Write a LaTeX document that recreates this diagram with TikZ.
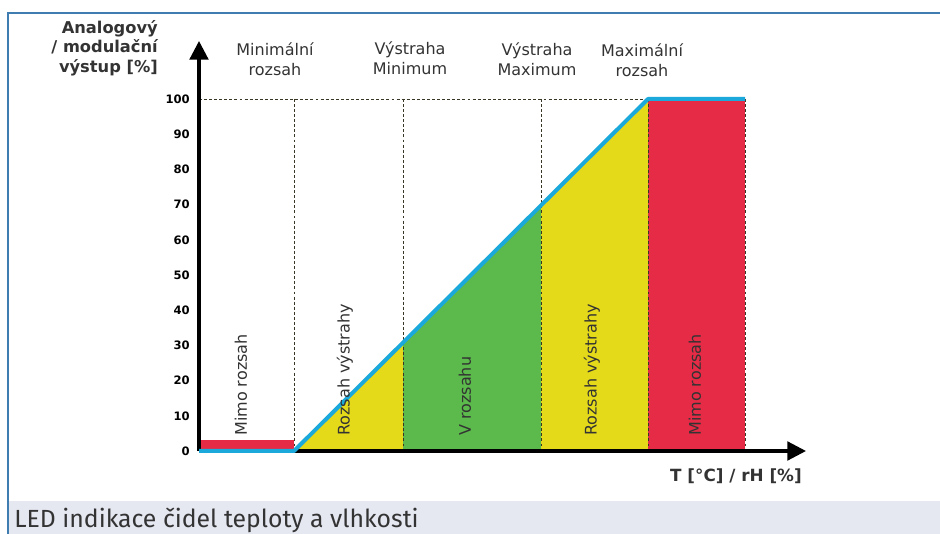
\documentclass[tikz,border=0pt]{standalone}
\usepackage{fontspec}
\setmainfont{DejaVu Sans}
\newfontfamily\capfont{Fira Sans}
\usetikzlibrary{arrows.meta}
\definecolor{cred}{HTML}{E52B45}
\definecolor{cyel}{HTML}{E5DA1A}
\definecolor{cgrn}{HTML}{5BBA4B}
\definecolor{cblu}{HTML}{1BA9DB}
\definecolor{cframe}{HTML}{3F7DB1}
\definecolor{ccap}{HTML}{E5E7F1}
\definecolor{ctxt}{HTML}{333333}
\definecolor{cdash}{HTML}{3A3626}
\tikzset{
  axis/.style={line width=2.4pt, -{Triangle[length=14pt,width=14pt]}},
  guide/.style={cdash, line width=0.7pt, dash pattern=on 2.2pt off 1.6pt},
  curve/.style={cblu, line width=3pt, line join=round},
  toplab/.style={align=center, font=\fontsize{12}{15}\selectfont, text=ctxt},
  tick/.style={anchor=east, font=\fontsize{8.7}{10}\selectfont\bfseries, text=black, inner sep=0pt},
  zonelab/.style={rotate=90, anchor=west, inner sep=0pt, font=\fontsize{12}{14}\selectfont, text=ctxt},
}
\begin{document}
\begin{tikzpicture}[x=0.75pt, y=-0.75pt]
\useasboundingbox (0,0) rectangle (940,534);
% frame and caption band
\fill[ccap] (9,501) rectangle (940,534);
\draw[cframe, line width=1.6pt] (8,534) -- (8,13) -- (940,13);
\node[anchor=base west, inner sep=0pt, font=\capfont\fontsize{18.6}{22}\selectfont, text=ctxt] (cap) at (14,528) {LED indikace čidel teploty a vlhkosti};
% coordinates
\coordinate (O) at (199,451);
\coordinate (Ytip) at (199,41);
\coordinate (Xtip) at (806,451);
\coordinate (P0) at (294,451);
\coordinate (P1) at (403,342.6);
\coordinate (P2) at (541,205.4);
\coordinate (P3) at (648,99);
\coordinate (P4) at (745,99);
% fills
\fill[cred] (199,440) rectangle (294,451);
\fill[cyel] (P0) -- (P1) -- (403,451) -- cycle;
\fill[cgrn] (403,451) -- (P1) -- (P2) -- (541,451) -- cycle;
\fill[cyel] (541,451) -- (P2) -- (P3) -- (648,451) -- cycle;
\fill[cred] (P3) rectangle (745,451);
% guides
\draw[guide] (199,99) -- (P3);
\foreach \x in {294,403,541,648,745} \draw[guide] (\x,99) -- (\x,451);
% axes
\draw[axis] (O) -- (Ytip);
\draw[axis] (O) -- (Xtip);
% curve
\draw[curve] (O) -- (P0) -- (P3) -- (P4);
% tick labels
\foreach \v [count=\i from 0] in {0,10,20,30,40,50,60,70,80,90,100}
  \node[tick] (t\i) at (190,{451-3.52*\v}) {\v};
% axis titles
\node[anchor=east, align=right, inner sep=0pt, font=\fontsize{12.2}{14.6}\selectfont\bfseries, text=ctxt] (ytitle) at (158,48) {Analogový\\/ modulační\\výstup [\%]};
\node[anchor=east, inner sep=0pt, font=\fontsize{12.6}{15}\selectfont\bfseries, text=ctxt] (xtitle) at (802,476) {T [°C] / rH [\%]};
% top labels
\node[toplab] (l1) at (275,59) {Minimální\\rozsah};
\node[toplab] (l2) at (410,58) {Výstraha\\Minimum};
\node[toplab] (l3) at (537,59) {Výstraha\\Maximum};
\node[toplab] (l4) at (642,60) {Maximální\\rozsah};
% zone labels
\node[zonelab] (z1) at (241,436) {Mimo rozsah};
\node[zonelab] (z2) at (345,436) {Rozsah výstrahy};
\node[zonelab] (z3) at (465,436) {V rozsahu};
\node[zonelab] (z4) at (592,436) {Rozsah výstrahy};
\node[zonelab] (z5) at (695,436) {Mimo rozsah};
\end{tikzpicture}
\end{document}
